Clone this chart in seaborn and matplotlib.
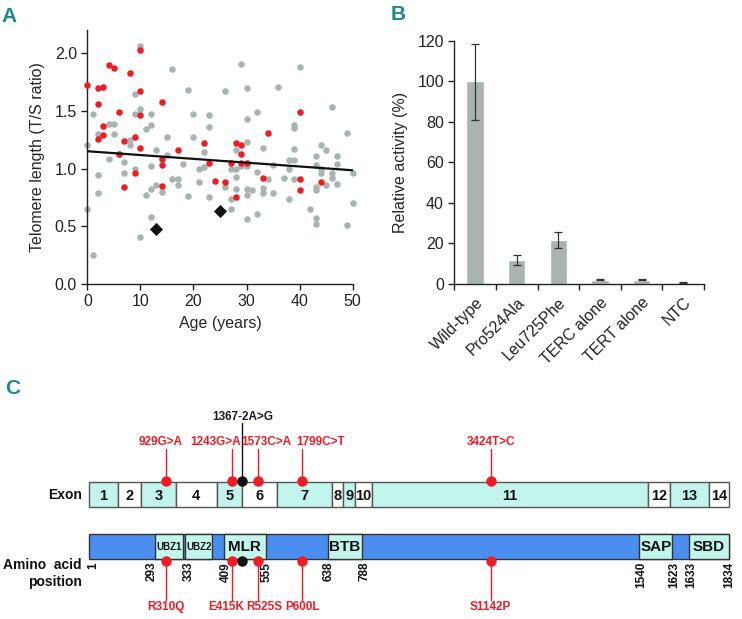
import numpy as np
import pandas as pd
import matplotlib
matplotlib.use('Agg')
import matplotlib.pyplot as plt
import seaborn as sns
from matplotlib.patches import Rectangle

# --- Panel A: telomere length vs age ---
carrier_age = [0, 2, 3, 2, 4, 5, 8, 10, 10, 14, 6, 10, 3, 3, 2, 7, 9, 10, 6, 9, 7,
               14, 14, 14, 17, 22, 23, 24, 26, 28, 29, 29, 29, 30, 27, 28, 33, 34,
               40, 40, 40, 44]
carrier_tl = [1.72, 1.70, 1.71, 1.56, 1.90, 1.87, 1.83, 2.03, 1.67, 1.58, 1.49, 1.46,
              1.37, 1.29, 1.26, 1.24, 1.27, 1.18, 1.13, 0.96, 0.84, 1.08, 1.03, 0.85,
              1.16, 1.22, 1.05, 0.89, 0.88, 1.22, 1.20, 1.13, 1.05, 1.05, 1.05, 0.75,
              0.92, 1.31, 1.49, 0.91, 0.81, 0.88]
control_age = [0, 0, 1, 1, 2, 2, 2, 4, 4, 5, 5, 6, 7, 7, 8, 8, 9, 9, 9, 10, 10, 10,
               11, 11, 12, 12, 12, 12, 12, 13, 13, 14, 15, 15, 16, 16, 17, 17, 18, 19,
               19, 20, 20, 21, 21, 22, 22, 23, 23, 23, 26, 26, 27, 27, 27, 28, 28, 28,
               28, 29, 29, 30, 30, 30, 30, 30, 30, 30, 31, 32, 32, 32, 33, 33, 33, 34,
               35, 35, 36, 37, 38, 38, 38, 39, 39, 39, 39, 39, 40, 42, 43, 43, 43, 43,
               43, 43, 44, 44, 44, 45, 45, 46, 46, 46, 47, 47, 47, 49, 49, 50, 50]
control_tl = [1.20, 0.65, 0.25, 1.47, 1.30, 0.94, 0.79, 1.39, 1.08, 1.39, 1.30, 1.13,
              1.06, 0.96, 1.25, 1.20, 1.65, 1.47, 1.00, 2.06, 1.52, 0.41, 1.34, 0.77,
              1.47, 1.38, 1.02, 0.82, 0.58, 1.16, 0.86, 0.80, 1.27, 1.12, 1.86, 0.91,
              0.91, 0.86, 1.04, 1.68, 0.76, 1.47, 1.27, 1.00, 0.88, 1.14, 1.01, 1.46,
              1.36, 0.75, 1.67, 0.84, 1.00, 0.74, 0.65, 1.16, 1.00, 0.93, 0.82, 1.91,
              1.02, 1.70, 1.43, 1.23, 1.02, 0.82, 0.77, 0.56, 0.81, 1.49, 0.97, 0.61,
              1.18, 0.83, 0.79, 0.91, 1.03, 0.79, 1.71, 0.92, 1.07, 1.00, 0.74, 1.38,
              1.35, 1.17, 1.07, 0.91, 1.88, 0.65, 1.11, 1.03, 0.84, 0.81, 0.57, 0.52,
              1.20, 1.00, 0.96, 1.16, 0.86, 1.53, 0.96, 0.92, 1.11, 1.04, 0.87, 1.31,
              0.51, 0.96, 0.70]
index_age = [13, 25]
index_tl = [0.48, 0.63]
trend_intercept = 1.15
trend_slope = -0.0033

# --- Panel B: telomerase activity ---
constructs = ['Wild-type', 'Pro524Ala', 'Leu725Phe', 'TERC alone', 'TERT alone', 'NTC']
activity = [100, 11.5, 21.5, 2.0, 2.0, 0.5]
err_low = [19, 2.5, 4, 0.3, 0.3, 0.3]
err_high = [18.5, 2.5, 4, 0.3, 0.3, 0.3]

# --- Panel C: gene / protein schematic (schematic units, 0-640) ---
exon_labels = [str(i) for i in range(1, 15)]
exon_edges = [0, 28.7, 52.3, 86.7, 127.7, 152.7, 187.7, 242.7, 254.3, 266, 282.7,
              559.3, 581, 620, 640]
domain_names = ['UBZ1', 'UBZ2', 'MLR', 'BTB', 'SAP', 'SBD']
domain_start = [66, 96.3, 135, 238.7, 550.3, 600.3]
domain_end = [93.7, 123.3, 176.7, 273.3, 583.3, 640]
aa_ticks = ['1', '293', '333', '409', '555', '638', '788', '1540', '1623', '1633', '1834']
aa_tick_pos = [4.5, 62.7, 100, 136.7, 177.7, 239.3, 275.3, 552.7, 585.3, 602.7, 640]
mut_dna = ['929G>A', '1243G>A', '1573C>A', '1799C>T', '3424T>C']
mut_protein = ['R310Q', 'E415K', 'R525S', 'P600L', 'S1142P']
mut_pos = [76.7, 143.3, 169.3, 213.3, 401.7]
splice_label = '1367-2A>G'
splice_pos = 152.7

RED = '#ee1c25'
GREY = '#a9b3b2'
TEAL = '#1b8a8a'
CYAN = '#c2f5ec'
BLUE = '#4a8ef2'

sns.set_theme(style='ticks')
plt.rcParams['font.family'] = ['Liberation Sans', 'DejaVu Sans']

fig = plt.figure(figsize=(7.42, 6.19), dpi=100)

# ---------------- Panel A ----------------
axA = fig.add_axes([0.1177, 0.5412, 0.3577, 0.4103])
df_ctrl = pd.DataFrame({'age': control_age, 'tl': control_tl})
df_carr = pd.DataFrame({'age': carrier_age, 'tl': carrier_tl})
sns.scatterplot(data=df_ctrl, x='age', y='tl', color=GREY, s=22, linewidth=0,
                ax=axA, clip_on=False, zorder=2)
sns.scatterplot(data=df_carr, x='age', y='tl', color=RED, s=22, linewidth=0,
                ax=axA, clip_on=False, zorder=3)
sns.scatterplot(x=index_age, y=index_tl, color='#111111', marker='D', s=45,
                linewidth=0, ax=axA, zorder=4)
xs = np.array([0, 50])
axA.plot(xs, trend_intercept + trend_slope * xs, color='#111111', lw=1.6, zorder=5)
axA.set_xlim(0, 50)
axA.set_ylim(0, 2.2)
axA.set_xticks(range(0, 51, 10))
axA.set_yticks([0, 0.5, 1.0, 1.5, 2.0])
axA.set_yticklabels(['0.0', '0.5', '1.0', '1.5', '2.0'])
axA.set_xlabel('Age (years)', fontsize=11.5, labelpad=5)
axA.set_ylabel('Telomere length (T/S ratio)', fontsize=11.5, labelpad=7)
axA.tick_params(labelsize=11.5, length=4, width=1, color='#222222', labelcolor='#222222')
sns.despine(ax=axA)
for sp in ['left', 'bottom']:
    axA.spines[sp].set_color('#222222')
    axA.spines[sp].set_linewidth(1.0)

# ---------------- Panel B ----------------
axB = fig.add_axes([0.6123, 0.5417, 0.3365, 0.3921])
df_b = pd.DataFrame({'construct': constructs, 'activity': activity})
sns.barplot(data=df_b, x='construct', y='activity', color=GREY, width=0.42,
            saturation=1, errorbar=None, ax=axB)
axB.errorbar(range(len(constructs)), activity, yerr=[err_low, err_high], fmt='none',
             ecolor='#333333', elinewidth=0.9, capsize=3, capthick=0.9)
axB.set_xlim(-0.5, len(constructs) - 0.5)
axB.set_ylim(0, 120)
axB.set_yticks(range(0, 121, 20))
axB.set_xlabel('')
axB.set_ylabel('Relative activity (%)', fontsize=11.5, labelpad=7)
axB.set_xticks(range(len(constructs)))
axB.set_xticklabels(constructs, rotation=45, ha='right', rotation_mode='anchor')
axB.set_xticks(np.arange(-0.5, len(constructs)), minor=True)
axB.tick_params(axis='x', which='major', length=0, labelsize=11.5, pad=8,
                labelcolor='#222222')
axB.tick_params(axis='x', which='minor', length=4, width=1, color='#222222')
axB.tick_params(axis='y', labelsize=11.5, length=4, width=1, color='#222222',
                labelcolor='#222222')
sns.despine(ax=axB)
for sp in ['left', 'bottom']:
    axB.spines[sp].set_color('#222222')
    axB.spines[sp].set_linewidth(1.0)

# ---------------- Panel C ----------------
axC = fig.add_axes([0, 0, 1, 249 / 619])
axC.set_xlim(-89, 742 - 89)
axC.set_ylim(619, 370)
axC.axis('off')

ex_top, ex_h = 482.5, 25
pr_top, pr_h = 534, 25
bold = dict(fontweight='bold')

for i, lab in enumerate(exon_labels):
    x0, x1 = exon_edges[i], exon_edges[i + 1]
    fc = CYAN if i % 2 == 0 else 'white'
    axC.add_patch(Rectangle((x0, ex_top), x1 - x0, ex_h, facecolor=fc,
                            edgecolor='#555555', lw=1.0))
    axC.text((x0 + x1) / 2, ex_top + ex_h / 2 + 1, lab, ha='center', va='center',
             fontsize=10.5, color='#111111', **bold)

axC.add_patch(Rectangle((0, pr_top), 640, pr_h, facecolor=BLUE, edgecolor='#333333', lw=1.0))
for name, d0, d1 in zip(domain_names, domain_start, domain_end):
    axC.add_patch(Rectangle((d0, pr_top), d1 - d0, pr_h, facecolor=CYAN,
                            edgecolor='#333333', lw=1.0))
    fs = 7 if name.startswith('UBZ') else 11
    axC.text((d0 + d1) / 2, pr_top + pr_h / 2 + 1, name, ha='center', va='center',
             fontsize=fs, color='#111111', **bold)

axC.text(-7, 495, 'Exon', ha='right', va='center', fontsize=10, color='#111111', **bold)
axC.text(-7, 565, 'Amino  acid', ha='right', va='center', fontsize=10, color='#111111', **bold)
axC.text(-7, 582, 'position', ha='right', va='center', fontsize=10, color='#111111', **bold)

for lab, pos in zip(aa_ticks, aa_tick_pos):
    axC.text(pos, 562, lab, ha='center', va='top', rotation=90, fontsize=8.5,
             color='#111111', **bold)

top_dx = [-5, -17, 8, 18, 0]
bot_dx = [0, -6, 6, 0, 0]
for lab, plab, pos, tdx, bdx in zip(mut_dna, mut_protein, mut_pos, top_dx, bot_dx):
    axC.plot([pos, pos], [449, ex_top], color=RED, lw=1.0, zorder=3)
    axC.plot([pos, pos], [pr_top + pr_h, 600], color=RED, lw=1.0, zorder=3)
    axC.plot(pos, ex_top - 1, 'o', color=RED, ms=6.5, zorder=4)
    axC.plot(pos, pr_top + pr_h + 2, 'o', color=RED, ms=6.5, zorder=4)
    axC.text(pos + tdx, 442, lab, ha='center', va='center', fontsize=8.5, color=RED, **bold)
    axC.text(pos + bdx, 607, plab, ha='center', va='center', fontsize=8.5, color=RED, **bold)

axC.plot([splice_pos, splice_pos], [423, ex_top], color='#111111', lw=1.0, zorder=3)
axC.plot(splice_pos, ex_top - 1, 'o', color='#111111', ms=6.5, zorder=4)
axC.plot(splice_pos, pr_top + pr_h + 2, 'o', color='#111111', ms=6.5, zorder=4)
axC.text(splice_pos + 1.5, 417, splice_label, ha='center', va='center', fontsize=8.5,
         color='#1a1a2a', **bold)

# panel letters
for letter, x, y in [('A', 9, 16), ('B', 398, 14), ('C', 13, 388)]:
    fig.text(x / 742, 1 - y / 619, letter, ha='center', va='center', fontsize=15,
             fontweight='bold', color=TEAL)

fig.savefig('out.png', dpi=100)
